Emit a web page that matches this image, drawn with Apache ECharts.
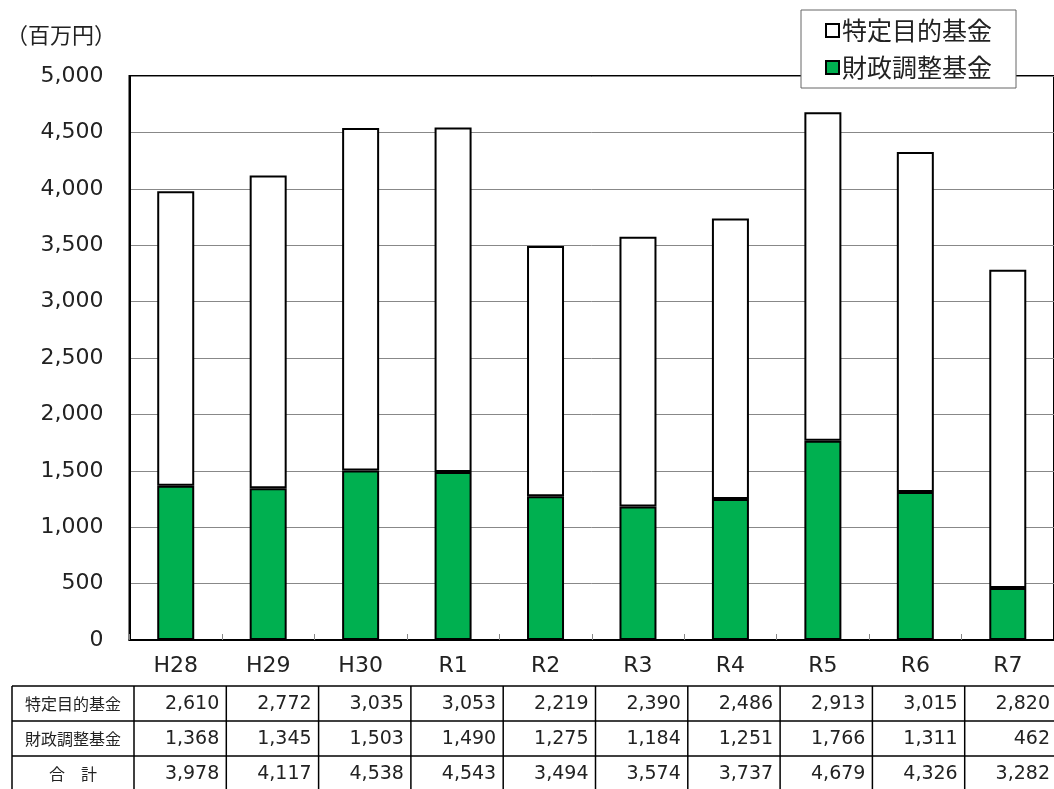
<!DOCTYPE html>
<html>
<head>
<meta charset="utf-8">
<script src="https://cdn.jsdelivr.net/npm/echarts@6/dist/echarts.min.js"></script>
<style>html,body{margin:0;padding:0;background:#fff}#c{width:1054px;height:789px}</style>
</head>
<body>
<div id="c"></div>
<script>
var categories = ['H28','H29','H30','R1','R2','R3','R4','R5','R6','R7'];
var tokutei = [2610,2772,3035,3053,2219,2390,2486,2913,3015,2820];
var zaisei = [1368,1345,1503,1490,1275,1184,1251,1766,1311,462];
var total = [3978,4117,4538,4543,3494,3574,3737,4679,4326,3282];
var seriesNames = ['特定目的基金','財政調整基金'];
var rowLabels = ['特定目的基金','財政調整基金','合　計'];
var yTitle = '（百万円）';

var NUM = 'DejaVu Sans, sans-serif';
var JP = 'Noto Sans CJK JP, sans-serif';
function fmt(v){ return v.toLocaleString('en-US'); }

var chart = echarts.init(document.getElementById('c'), null, {renderer:'canvas'});

// table graphics
var g = [];
var tblTop = 686, rowH = 35, tblLeft = 12, firstColR = 134, colW = 92.3;
var rightEdge = firstColR + colW * categories.length;
for (var r = 0; r <= 3; r++) {
  g.push({type:'line', shape:{x1:tblLeft, y1:tblTop + r*rowH, x2:rightEdge, y2:tblTop + r*rowH}, style:{stroke:'#000', lineWidth:1.5}});
}
g.push({type:'line', shape:{x1:tblLeft, y1:tblTop, x2:tblLeft, y2:tblTop+3*rowH}, style:{stroke:'#000', lineWidth:1.5}});
for (var c = 0; c <= categories.length; c++) {
  var x = firstColR + c*colW;
  g.push({type:'line', shape:{x1:x, y1:tblTop, x2:x, y2:tblTop+3*rowH}, style:{stroke:'#000', lineWidth:1.5}});
}
var rows = [tokutei, zaisei, total];
for (var r = 0; r < 3; r++) {
  var cy = tblTop + r*rowH + rowH/2;
  g.push({type:'text', x:(tblLeft+firstColR)/2, y:cy, style:{text:rowLabels[r], font:'16px ' + JP, fill:'#222', align:'center', verticalAlign:'middle'}});
  for (var c = 0; c < categories.length; c++) {
    g.push({type:'text', x:firstColR + (c+1)*colW - 7, y:cy + 1, style:{text:fmt(rows[r][c]), font:'19px ' + NUM, fill:'#222', align:'right', verticalAlign:'middle'}});
  }
}
g.push({type:'text', x:6, y:35, style:{text:yTitle, font:'22px ' + JP, fill:'#222', align:'left', verticalAlign:'middle'}});

var option = {
  animation:false,
  backgroundColor:'#fff',
  grid:{left:129.5, top:76, width:932, height:564, show:true, borderColor:'#000', borderWidth:2, backgroundColor:'transparent'},
  legend:{
    data:seriesNames, orient:'vertical', left:801, top:10,
    backgroundColor:'#fff', borderColor:'#666', borderWidth:1,
    padding:[8, 24, 8, 24], itemWidth:13, itemHeight:13, itemGap:12,
    icon:'rect',
    textStyle:{fontFamily:JP, fontSize:25, color:'#222', padding:[0,0,0,-2]},
    z:10
  },
  xAxis:{
    type:'category', data:categories,
    axisLine:{lineStyle:{color:'#000', width:2}},
    axisTick:{show:true, inside:true, length:6, lineStyle:{color:'#888'}},
    axisLabel:{fontFamily:NUM, fontSize:22, color:'#222', margin:15}
  },
  yAxis:{
    type:'value', min:0, max:5000, interval:500,
    axisLine:{show:true, lineStyle:{color:'#000', width:2}},
    axisTick:{show:false},
    splitLine:{lineStyle:{color:'#888', width:1}},
    axisLabel:{fontFamily:NUM, fontSize:22, color:'#222', margin:26, formatter:function(v){return fmt(v);}}
  },
  series:[
    {name:seriesNames[1], type:'bar', stack:'s', data:zaisei, barWidth:37,
     itemStyle:{color:'#00B050', borderColor:'#000', borderWidth:2}},
    {name:seriesNames[0], type:'bar', stack:'s', data:tokutei, barWidth:37,
     itemStyle:{color:'#fff', borderColor:'#000', borderWidth:2}}
  ],
  graphic:g
};
chart.setOption(option);
</script>
</body>
</html>
